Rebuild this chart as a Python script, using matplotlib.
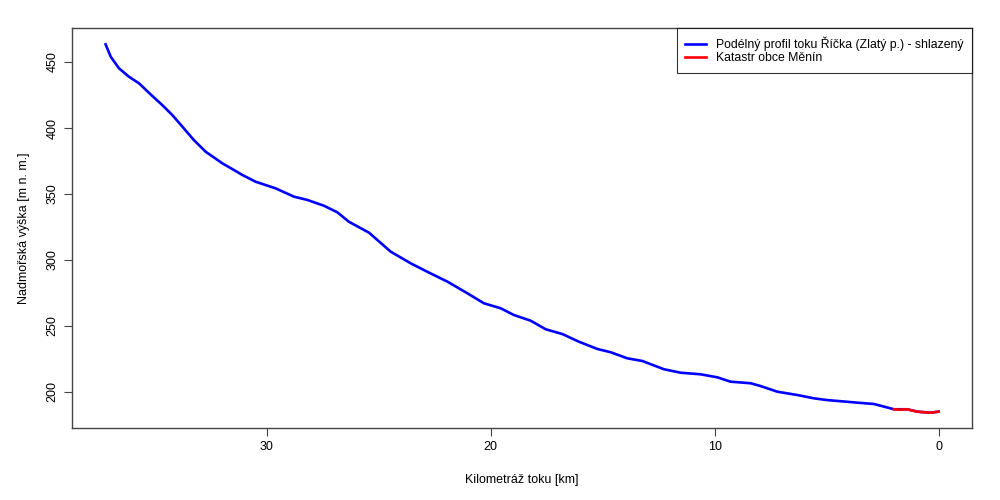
import matplotlib
matplotlib.use("Agg")
from matplotlib import pyplot as plt

plt.rcParams['font.family'] = ['Liberation Sans', 'DejaVu Sans']

# kilometrage of the stream [km] and elevation [m n. m.]
km_profil = [37.19, 36.96, 36.59, 36.15, 35.70, 35.18, 34.66, 34.21, 33.76, 33.25,
             32.72, 31.98, 31.08, 30.49, 29.60, 28.78, 28.18, 27.44, 26.84, 26.33,
             25.43, 25.06, 24.46, 23.57, 22.83, 21.93, 21.04, 20.30, 19.55, 18.96,
             18.21, 17.54, 16.80, 16.06, 15.24, 14.64, 13.90, 13.23, 12.26, 11.52,
             10.63, 9.88, 9.29, 8.39, 7.95, 7.20, 6.31, 5.57, 5.00, 3.63,
             2.89, 2.44, 2.00, 1.40, 0.95, 0.36, 0.00]
vyska_profil = [463.4, 454.0, 445.2, 438.9, 433.9, 425.5, 417.4, 409.8, 401.0, 390.9,
                382.0, 373.3, 364.4, 359.3, 354.3, 348.0, 345.5, 341.1, 336.1, 329.0,
                320.7, 315.2, 306.3, 297.5, 291.1, 283.6, 274.8, 267.2, 263.4, 258.3,
                254.0, 247.5, 243.9, 238.1, 232.6, 230.1, 225.5, 223.5, 217.2, 214.6,
                213.4, 211.1, 207.8, 206.6, 204.5, 200.2, 197.7, 195.2, 193.9, 191.9,
                190.9, 188.9, 186.9, 186.9, 185.1, 184.3, 185.1]

km_menin = [2.00, 1.70, 1.40, 1.20, 0.95, 0.65, 0.36, 0.00]
vyska_menin = [186.9, 186.6, 186.9, 186.0, 185.1, 184.6, 184.3, 185.1]

x_ticks = [30, 20, 10, 0]
y_ticks = [200, 250, 300, 350, 400, 450]

fig = plt.figure(figsize=(10, 5), dpi=100)
ax = fig.add_axes([0.072, 0.144, 0.9, 0.8])

ax.plot(km_profil, vyska_profil, color='#0000ff', lw=1.9,
        label='Podélný profil toku Říčka (Zlatý p.) - shlazený')
ax.plot(km_menin, vyska_menin, color='#ff0000', lw=1.9,
        label='Katastr obce Měnín')

ax.set_xlim(38.69, -1.49)
ax.set_ylim(172.7, 475.8)
ax.set_xticks(x_ticks)
ax.set_yticks(y_ticks)
ax.tick_params(direction='out', length=6, labelsize=9, color='#444444')
for lbl in ax.get_yticklabels():
    lbl.set_rotation(90)
    lbl.set_va('center')
for s in ax.spines.values():
    s.set_color('#444444')
    s.set_linewidth(1)

ax.set_xlabel('Kilometráž toku [km]', fontsize=9, labelpad=15)
ax.set_ylabel('Nadmořská výška [m n. m.]', fontsize=9, labelpad=12)

leg = ax.legend(loc='upper right', fontsize=8.8, frameon=True, fancybox=False,
                borderaxespad=0, handlelength=1.7, borderpad=0.7,
                labelspacing=0.1, handletextpad=0.8)
leg.get_frame().set_edgecolor('black')
leg.get_frame().set_linewidth(0.8)

fig.savefig('out.png', dpi=100)
